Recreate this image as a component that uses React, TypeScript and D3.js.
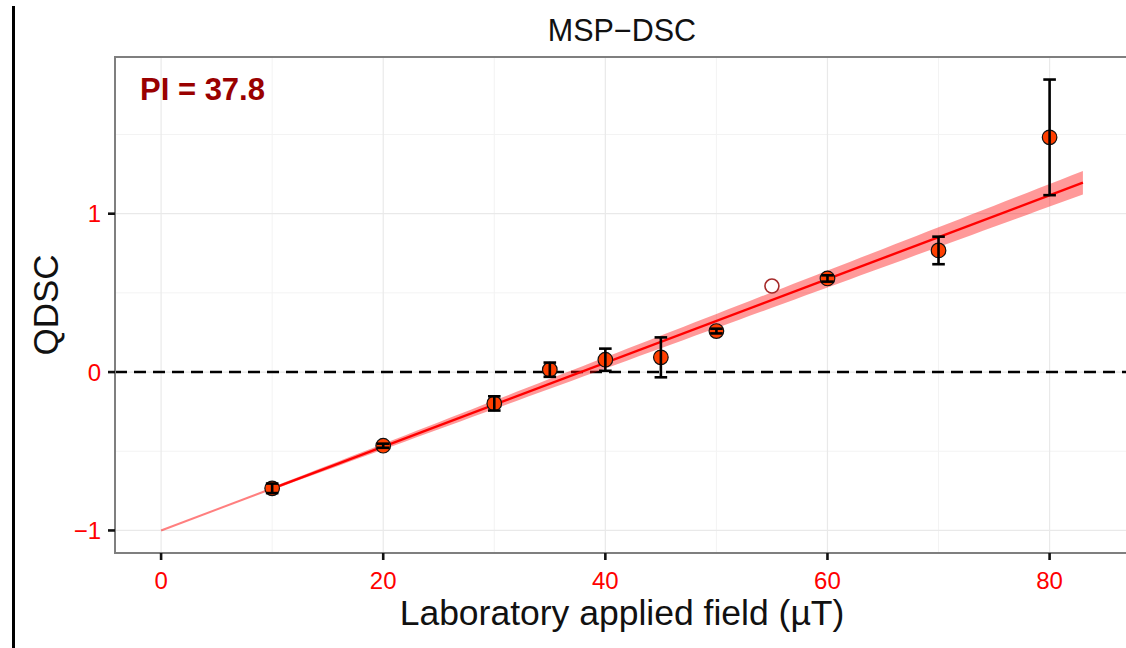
import React from "react";
import * as d3 from "d3";

// Applied field steps (µT) and the DSC ratio measured at each
const fields = [10, 20, 30, 35, 40, 45, 50, 60, 70, 80];
const qdsc = [-0.734, -0.465, -0.198, 0.015, 0.078, 0.093, 0.259, 0.591, 0.768, 1.482];
const qdscErr = [0.03, 0.013, 0.045, 0.045, 0.07, 0.126, 0.015, 0.02, 0.087, 0.365];

// Step rejected from the fit
const rejectedFields = [55];
const rejectedQdsc = [0.543];

// Fit: Q = -1 at zero field, crosses zero at the paleointensity
const PI = 37.8;
const slopeCI = 0.00089;
const fitStart = 10;
const fitEnd = 83;

const xTicks = [0, 20, 40, 60, 80];
const xMinor = [10, 30, 50, 70];
const yTicks = [-1, 0, 1];
const yMinor = [-0.5, 0.5, 1.5];

const W = 1126;
const H = 648;
const FONT = "'Liberation Sans', Arial, Helvetica, sans-serif";

const fmt = (v: number) => (v < 0 ? "\u2212" + Math.abs(v) : String(v));

export default function App() {
  const left = 115, right = 1129, top = 57, bottom = 553;

  const fitY = (f: number) => -1 + f / PI;

  const xLo = 0, xHi = fitEnd;
  const xPad = (xHi - xLo) * 0.05;
  const x = d3.scaleLinear().domain([xLo - xPad, xHi + xPad]).range([left, right]);

  const yVals = [
    fitY(0),
    ...qdsc.map((q, i) => q + qdscErr[i]),
    ...qdsc.map((q, i) => q - qdscErr[i]),
    ...rejectedQdsc,
  ];
  const yLo = d3.min(yVals) as number;
  const yHi = d3.max(yVals) as number;
  const yPad = (yHi - yLo) * 0.05;
  const y = d3.scaleLinear().domain([yLo - yPad, yHi + yPad]).range([bottom, top]);

  const bandXs = d3.range(fitStart, fitEnd + 0.001, 1);
  const band = d3
    .area<number>()
    .x((f) => x(f))
    .y0((f) => y(fitY(f) - slopeCI * f))
    .y1((f) => y(fitY(f) + slopeCI * f));

  const line = d3
    .line<number>()
    .x((f) => x(f))
    .y((f) => y(fitY(f)));

  const capHalf = 6.3;

  return (
    <svg
      width={W}
      height={H}
      style={{ position: "fixed", left: 0, top: 0, background: "#fff" }}
      fontFamily={FONT}
    >
      <rect x={0} y={0} width={W} height={H} fill="#fff" />
      {/* left rule */}
      <rect x={12} y={6} width={3} height={H - 6} fill="#000" />

      <defs>
        <clipPath id="panel-clip">
          <rect x={left} y={top} width={right - left} height={bottom - top} />
        </clipPath>
      </defs>

      {/* grid */}
      <g>
        {xMinor.map((t) => (
          <line key={"xm" + t} x1={x(t)} x2={x(t)} y1={top} y2={bottom} stroke="#f3f3f3" strokeWidth={1} />
        ))}
        {yMinor.map((t) => (
          <line key={"ym" + t} x1={left} x2={right} y1={y(t)} y2={y(t)} stroke="#f3f3f3" strokeWidth={1} />
        ))}
        {xTicks.map((t) => (
          <line key={"xg" + t} x1={x(t)} x2={x(t)} y1={top} y2={bottom} stroke="#e9e9e9" strokeWidth={1.2} />
        ))}
        {yTicks.map((t) => (
          <line key={"yg" + t} x1={left} x2={right} y1={y(t)} y2={y(t)} stroke="#e9e9e9" strokeWidth={1.2} />
        ))}
      </g>

      <g clipPath="url(#panel-clip)">
        {/* zero reference */}
        <line
          x1={left}
          x2={right}
          y1={y(0)}
          y2={y(0)}
          stroke="#000"
          strokeWidth={2.4}
          strokeDasharray="12 7"
        />

        {/* fit confidence band and line */}
        <path d={band(bandXs) || ""} fill="#ff0000" fillOpacity={0.4} stroke="none" />
        <path d={line([0, fitStart]) || ""} stroke="#ff0000" strokeOpacity={0.5} strokeWidth={2} fill="none" />
        <path d={line([fitStart, fitEnd]) || ""} stroke="#ff0000" strokeWidth={2.4} fill="none" />

        {/* measured steps */}
        {fields.map((f, i) => (
          <circle key={"p" + f} cx={x(f)} cy={y(qdsc[i])} r={7.3} fill="#ff3f00" stroke="#111" strokeWidth={1.2} />
        ))}
        {fields.map((f, i) => {
          const cx = x(f);
          const y1 = y(qdsc[i] + qdscErr[i]);
          const y2 = y(qdsc[i] - qdscErr[i]);
          return (
            <g key={"e" + f} stroke="#000" strokeWidth={2.6}>
              <line x1={cx} x2={cx} y1={y1} y2={y2} />
              <line x1={cx - capHalf} x2={cx + capHalf} y1={y1} y2={y1} />
              <line x1={cx - capHalf} x2={cx + capHalf} y1={y2} y2={y2} />
            </g>
          );
        })}

        {/* rejected step */}
        {rejectedFields.map((f, i) => (
          <circle key={"r" + f} cx={x(f)} cy={y(rejectedQdsc[i])} r={7} fill="#fff" stroke="#a52a2a" strokeWidth={1.6} />
        ))}
      </g>

      {/* panel border */}
      <rect
        x={left}
        y={top}
        width={right - left}
        height={bottom - top}
        fill="none"
        stroke="#7f7f7f"
        strokeWidth={2}
      />

      {/* axes */}
      {xTicks.map((t) => (
        <g key={"xt" + t}>
          <line x1={x(t)} x2={x(t)} y1={bottom} y2={bottom + 7} stroke="#111" strokeWidth={2.6} />
          <text x={x(t)} y={589} textAnchor="middle" fill="#ff0000" fontSize={24}>
            {fmt(t)}
          </text>
        </g>
      ))}
      {yTicks.map((t) => (
        <g key={"yt" + t}>
          <line x1={left - 7} x2={left} y1={y(t)} y2={y(t)} stroke="#111" strokeWidth={2.6} />
          <text x={101} y={y(t)} dy="0.36em" textAnchor="end" fill="#ff0000" fontSize={24}>
            {fmt(t)}
          </text>
        </g>
      ))}

      {/* titles */}
      <text x={(left + right) / 2} y={41} textAnchor="middle" fontSize={30.5} fill="#111">
        MSP−DSC
      </text>
      <text x={(left + right) / 2} y={625} textAnchor="middle" fontSize={35.5} fill="#111">
        Laboratory applied field (µT)
      </text>
      <text
        transform={`translate(58, ${(top + bottom) / 2}) rotate(-90)`}
        textAnchor="middle"
        fontSize={35}
        fill="#111"
      >
        QDSC
      </text>

      <text x={140} y={100} fontSize={31} fontWeight="bold" fill="#990000">
        PI = {PI}
      </text>
    </svg>
  );
}
